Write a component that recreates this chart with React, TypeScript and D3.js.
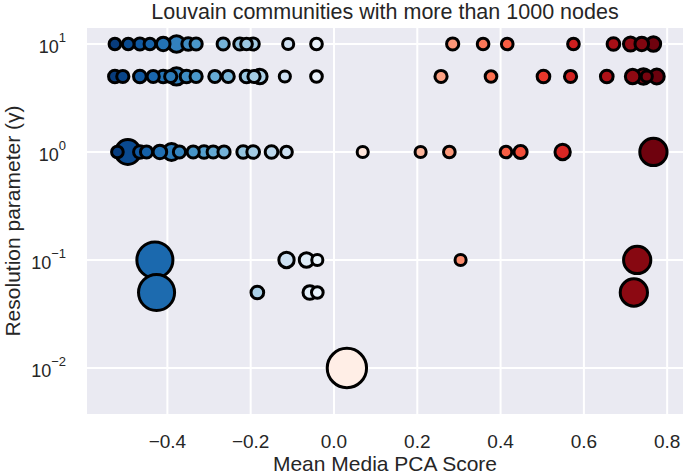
import React from "react";
import * as d3 from "d3";

// ---- data ----
const title = "Louvain communities with more than 1000 nodes";
const xLabel = "Mean Media PCA Score";
const yLabel = "Resolution parameter (\u03b3)";
const xTicks = [-0.4, -0.2, 0.0, 0.2, 0.4, 0.6, 0.8];
const yTickExponents = [1, 0, -1, -2];

// resolution parameter of each community
const resolution = [
  10, 10, 10, 10, 10, 10, 10, 10, 10, 10, 10, 10, 10, 10, 10, 10, 10, 10, 10, 10, 10, 10,
  5, 5, 5, 5, 5, 5, 5, 5, 5, 5, 5, 5, 5, 5, 5, 5, 5, 5, 5, 5, 5, 5, 5, 5, 5,
  1, 1, 1, 1, 1, 1, 1, 1, 1, 1, 1, 1, 1, 1, 1, 1, 1, 1, 1, 1, 1, 1,
  0.1, 0.1, 0.1, 0.1, 0.1, 0.1,
  0.05, 0.05, 0.05, 0.05, 0.05,
  0.01,
];
// mean media PCA score of each community
const pcaScore = [
  -0.526, -0.494, -0.466, -0.442, -0.41, -0.378, -0.35, -0.331, -0.266, -0.226, -0.21, -0.194, -0.11, -0.042,
  0.285, 0.358, 0.416, 0.575, 0.671, 0.712, 0.739, 0.767,
  -0.526, -0.507, -0.466, -0.434, -0.41, -0.392, -0.378, -0.354, -0.331, -0.286, -0.254, -0.21, -0.192, -0.178, -0.118, -0.042,
  0.257, 0.377, 0.503, 0.568, 0.655, 0.717, 0.743, 0.751, 0.775,
  -0.52, -0.495, -0.466, -0.45, -0.418, -0.39, -0.371, -0.338, -0.312, -0.29, -0.264, -0.218, -0.194, -0.15, -0.114,
  0.069, 0.208, 0.277, 0.413, 0.448, 0.549, 0.767,
  -0.43, -0.114, -0.066, -0.04, 0.304, 0.728,
  -0.426, -0.184, -0.058, -0.04, 0.72,
  0.031,
];
// number of nodes of each community
const nodeCount = [
  1100, 1100, 1200, 1100, 1500, 2200, 1300, 1200, 1200, 1200, 1100, 1200, 1000, 1100,
  1200, 1100, 1100, 1100, 1300, 1600, 1500, 1700,
  1300, 1200, 1300, 1200, 1300, 1200, 2400, 1300, 1200, 1200, 1200, 1300, 1200, 1700, 1000, 1100,
  1200, 1100, 1300, 1200, 1300, 1700, 2000, 1000, 1800,
  1100, 5000, 1300, 1200, 1500, 2300, 1200, 1200, 1300, 1200, 1200, 1300, 1300, 1300, 1100,
  1000, 1000, 1100, 1100, 1400, 1900, 6000,
  10500, 1900, 1700, 1000, 1000, 6000,
  10500, 1300, 1500, 1100, 6000,
  12500,
];

const W = 685;
const H = 474;
const M = { left: 87, right: 2, top: 28, bottom: 60 };
const FONT = "'Liberation Sans', Arial, Helvetica, sans-serif";

export default function App() {
  const x = d3.scaleLinear().domain([-0.593, 0.838]).range([M.left, W - M.right]);
  const y = d3
    .scaleLog()
    .domain([Math.pow(10, -2.426), Math.pow(10, 1.148)])
    .range([H - M.bottom, M.top]);
  const r = d3.scaleSqrt().domain([0, 10000]).range([0, 17.6]);
  const color = (v: number) =>
    v < 0
      ? d3.interpolateBlues(Math.min(1, -v / 0.55))
      : d3.interpolateReds(Math.min(1, v / 0.78));

  const points = pcaScore
    .map((v, i) => ({ v, g: resolution[i], n: nodeCount[i] }))
    .sort((a, b) => b.n - a.n);

  const [x0, x1] = x.range();
  const [y0, y1] = y.range();
  const cx = (x0 + x1) / 2;
  const cy = (y0 + y1) / 2;

  return (
    <svg
      width={W}
      height={H}
      style={{ position: "absolute", left: 0, top: 0, background: "#fff" }}
      fontFamily={FONT}
    >
      <rect x={x0} y={y1} width={x1 - x0} height={y0 - y1} fill="#EAEAF2" />
      {xTicks.map((t) => (
        <line key={"gx" + t} x1={x(t)} x2={x(t)} y1={y1} y2={y0} stroke="#fff" strokeWidth={2} />
      ))}
      {yTickExponents.map((e) => (
        <line
          key={"gy" + e}
          x1={x0}
          x2={x1}
          y1={y(Math.pow(10, e))}
          y2={y(Math.pow(10, e))}
          stroke="#fff"
          strokeWidth={2}
        />
      ))}
      {points.map((p, i) => (
        <circle
          key={i}
          cx={x(p.v)}
          cy={y(p.g)}
          r={r(p.n)}
          fill={color(p.v)}
          stroke="#000"
          strokeWidth={3}
        />
      ))}
      {xTicks.map((t) => (
        <text key={"tx" + t} x={x(t)} y={447.5} textAnchor="middle" fontSize={19} fill="#262626">
          {t < 0 ? "\u2212" + Math.abs(t).toFixed(1) : t.toFixed(1)}
        </text>
      ))}
      {yTickExponents.map((e) => {
        const yy = y(Math.pow(10, e));
        return (
          <text key={"ty" + e} x={66} y={yy + 9} textAnchor="end" fontSize={18} fill="#262626">
            10
            <tspan fontSize={13} dy={-11}>
              {e < 0 ? "\u2212" + Math.abs(e) : String(e)}
            </tspan>
          </text>
        );
      })}
      <text x={cx} y={471} textAnchor="middle" fontSize={21} fill="#262626">
        {xLabel}
      </text>
      <text
        transform={`translate(20,${cy}) rotate(-90)`}
        textAnchor="middle"
        fontSize={21}
        fill="#262626"
      >
        {yLabel}
      </text>
      <text x={cx} y={19} textAnchor="middle" fontSize={21.5} fill="#262626">
        {title}
      </text>
    </svg>
  );
}
